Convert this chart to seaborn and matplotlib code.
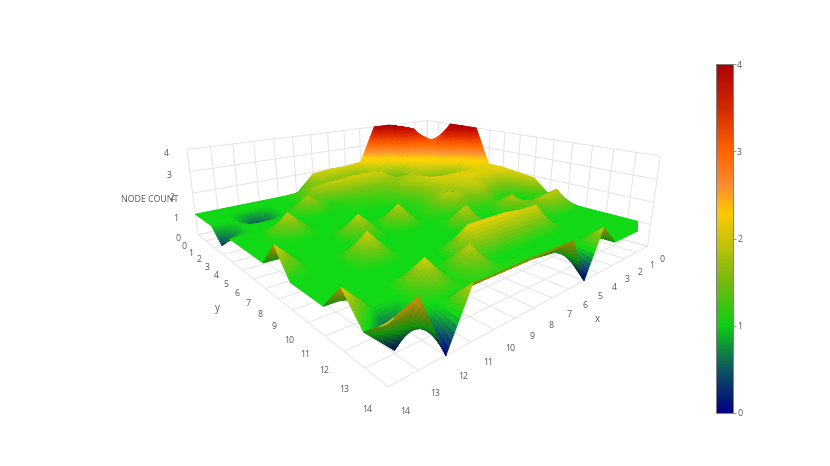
import numpy as np, matplotlib
matplotlib.use('Agg')
import matplotlib.pyplot as plt
from matplotlib.colors import LinearSegmentedColormap, Normalize
from matplotlib.cm import ScalarMappable
import seaborn as sns

x_ticks = list(range(15))
y_ticks = list(range(15))
z_ticks = [0, 1, 2, 3, 4]
z_x0  = [2.8,2.8,4.0,4.0,4.0,2.1,2.1,2.0,1.9,1.2,1,1,1,1,1]
z_x1  = [3.4,3.0,3.1,4.0,2.1,2.0,2.0,1.5,1.0,1.0,1.9,1,1,1,1]
z_x2  = [3.8,3.8,3.0,2.1,1.3,2.0,2.0,1.5,0.5,1.2,1.8,1,1,1,1]
z_x3  = [4.0,4.0,2.1,1.8,1.2,2.0,2.0,1.9,1.2,1.8,1,1,1,1,1]
z_x4  = [4.0,2.1,1.2,1.8,1.9,2.0,1.8,1.6,1.1,1,1,2.0,1,1,1.85]
z_x5  = [2.1,1.8,1.9,1.6,1.7,1.5,1.5,1.9,1.2,1,1,2.0,1,1,0.0]
z_x6  = [2.0,1.2,2.0,1.5,1.3,1.2,1.1,1.3,1,1.9,1,2.1,1,1,1.85]
z_x7  = [2.0,1.4,2.0,1.4,1.2,1,1,1,1,1,1,2.1,1,1.1,1.85]
z_x8  = [1.9,1.6,1.9,1.3,1.1,1,1,1.9,1,1,1,2.1,1,1.1,1.85]
z_x9  = [1,1.5,1.7,1.1,1,1,1,1,1,1,1,1,1.9,1.1,1.85]
z_x10 = [1,1,1,1.8,1,1,1,1.9,1,1,1,1,1,1.1,1.85]
z_x11 = [1,1,1,1,1,1,1,1,1,2.0,1,1,2.0,1,1.9]
z_x12 = [1,1,0.3,1,1,1.9,1,1,1,1,1,1,1,1,0.0]
z_x13 = [1,1,1,1,1,1,1,1,1,1,1,1,1,0.1,2.2]
z_x14 = [1,1,1,0.4,1,1,1,1,2.0,1,1,1,2.0,1.1,1.8]
node_count = np.array([z_x0,z_x1,z_x2,z_x3,z_x4,z_x5,z_x6,z_x7,z_x8,z_x9,z_x10,z_x11,z_x12,z_x13,z_x14],float)

sns.set_theme(style='white', font='Open Sans')
cmap = LinearSegmentedColormap.from_list('nc', [
    (0,(0,0,131/255)),(.125,(15/255,85/255,95/255)),(.25,(15/255,205/255,20/255)),
    (.375,(115/255,185/255,15/255)),(.5,(205/255,195/255,10/255)),(.575,(1,200/255,0)),
    (.65,(1,140/255,50/255)),(.75,(1,100/255,0)),(.875,(210/255,40/255,0)),(1,(170/255,0,0))])
norm = Normalize(0,4)

ELEV,AZIM=16.6,49
fig = plt.figure(figsize=(8.3,4.66),dpi=100)
S=457; cx,cy=416,210
ax = fig.add_axes([(cx-.5135*S)/830,(466-cy-.4865*S)/466,S/830,S/466],projection='3d')
ax.set_proj_type('persp',focal_length=0.2)
ax.view_init(elev=ELEV,azim=AZIM)
ax.set_box_aspect((1,1,.28))

# fine display mesh: each cell is shaded bilinearly between its four read values
n=10
fx=np.linspace(0,14,14*n+1); fy=np.linspace(0,14,14*n+1)
zf=np.array([np.interp(fy,y_ticks,row) for row in node_count])
zf=np.array([np.interp(fx,x_ticks,zf[:,j]) for j in range(len(fy))]).T
X,Y=np.meshgrid(fx,fy,indexing='ij')
def cell(a): return (a[:-1,:-1]+a[1:,:-1]+a[:-1,1:]+a[1:,1:])/4
zc=cell(zf)
fc=cmap(norm(zc))
fc[...,:3]=np.clip(fc[...,:3]*1.06,0,1)
# faces turned away from the viewer are dimmer, as with a lit surface
e,a=np.radians(ELEV),np.radians(AZIM)
eye=np.array([7+21.2*np.cos(e)*np.cos(a),7+21.2*np.cos(e)*np.sin(a),2+21.2*np.sin(e)])
dzdx=(zf[1:,:-1]+zf[1:,1:]-zf[:-1,:-1]-zf[:-1,1:])/2/(1/n)
dzdy=(zf[:-1,1:]+zf[1:,1:]-zf[:-1,:-1]-zf[1:,:-1])/2/(1/n)
vis=-dzdx*(eye[0]-cell(X))-dzdy*(eye[1]-cell(Y))+(eye[2]-zc)
fc[vis<0,:3]*=np.array([.82,.68,.62])
surf=ax.plot_surface(X,Y,zf,facecolors=fc,rstride=1,cstride=1,shade=False,linewidth=.6,antialiased=True)
surf.set_edgecolor(fc.reshape(-1,4))

ax.set_xlim(0,14);ax.set_ylim(0,14);ax.set_zlim(0,4)
ax.set_xticks(x_ticks);ax.set_yticks(y_ticks);ax.set_zticks(z_ticks)
gray='#5a5a5a'
for axis in (ax.xaxis,ax.yaxis,ax.zaxis):
    axis.set_pane_color((1,1,1,0))
    axis.pane.set_edgecolor((1,1,1,0))
    axis.line.set_color((1,1,1,0))
    axis._axinfo['grid'].update(color='#e4e4e4',linewidth=.7)
    axis.set_tick_params(labelsize=6.3,labelcolor=gray,color=(1,1,1,0),pad=0)
ax.grid(True)
fig.text(597/830,1-320/466,'x',fontsize=7,color=gray,ha='center',va='center')
fig.text(217/830,1-308/466,'y',fontsize=7,color=gray,ha='center',va='center')
fig.text(150/830,1-200/466,'NODE COUNT',fontsize=6.4,color=gray,ha='center',va='center')

cax=fig.add_axes([716/830,(466-413)/466,17/830,349/466])
cb=fig.colorbar(ScalarMappable(norm=norm,cmap=cmap),cax=cax,ticks=z_ticks)
cb.outline.set_edgecolor('#808080');cb.outline.set_linewidth(.7)
cb.ax.tick_params(labelsize=6.3,labelcolor=gray,color='#808080',length=2,width=.6,pad=1,right=True)
fig.savefig('out.png',dpi=100)
